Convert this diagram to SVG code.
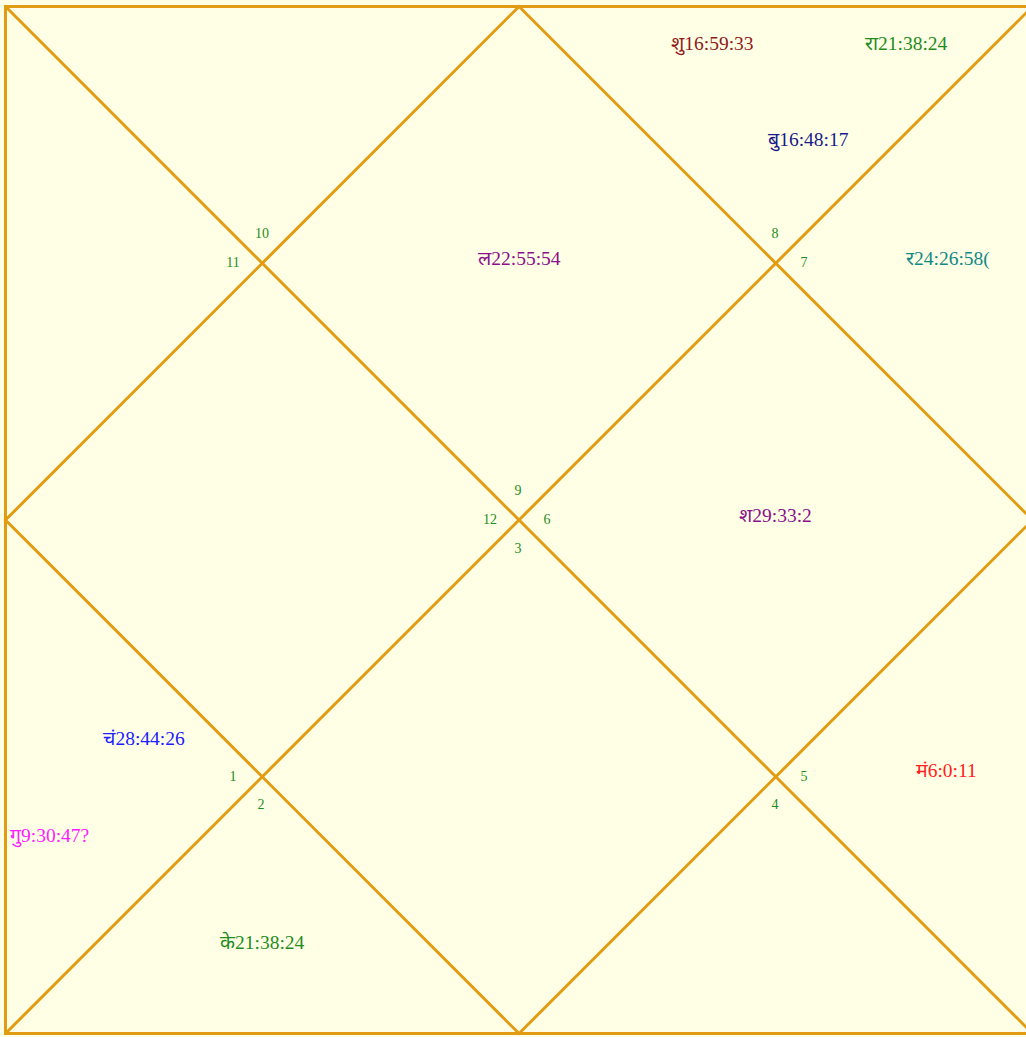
<svg xmlns="http://www.w3.org/2000/svg" width="1026" height="1037" viewBox="0 0 1026 1037">
<style>
.ln{stroke:#E29C14;stroke-width:3;fill:none;stroke-linecap:round}
.num{font-family:"Liberation Serif",serif;font-size:14px;fill:#1E8C1E;text-anchor:middle}
.pl{font-family:"Liberation Serif","Noto Sans",serif;font-size:19.5px}
</style>
<rect x="0" y="0" width="1026" height="1037" fill="#FFFFE5"/>
<g id="connectors">
<rect class="ln" x="5.5" y="6.5" width="1027" height="1027"/>
<line class="ln" x1="5.5" y1="6.5" x2="1032.5" y2="1033.5"/>
<line class="ln" x1="1032.5" y1="6.5" x2="5.5" y2="1033.5"/>
<polygon class="ln" points="519,6.5 1032.5,520 519,1033.5 5.5,520"/>
</g>
<g id="house-top">
<text class="num" x="518" y="495">9</text>
<text class="pl" x="478" y="265" fill="#8B108B">ल22:55:54</text>
</g>
<g id="house-top-left">
<text class="num" x="262" y="238">10</text>
</g>
<g id="house-left-upper">
<text class="num" x="233" y="267">11</text>
</g>
<g id="house-left">
<text class="num" x="490" y="524">12</text>
</g>
<g id="house-left-lower">
<text class="num" x="233" y="781">1</text>
<text class="pl" x="103" y="745" fill="#2020FF">चं28:44:26</text>
<text class="pl" x="10" y="842" fill="#FF20FF">गु9:30:47?</text>
</g>
<g id="house-bottom-left">
<text class="num" x="261" y="809">2</text>
<text class="pl" x="220" y="949" fill="#1E8C1E">के21:38:24</text>
</g>
<g id="house-bottom">
<text class="num" x="518" y="553">3</text>
</g>
<g id="house-bottom-right">
<text class="num" x="775" y="809">4</text>
</g>
<g id="house-right-lower">
<text class="num" x="804" y="781">5</text>
<text class="pl" x="916" y="777" fill="#FF2020">मं6:0:11</text>
</g>
<g id="house-right">
<text class="num" x="547" y="524">6</text>
<text class="pl" x="739" y="522" fill="#8B108B">श29:33:2</text>
</g>
<g id="house-right-upper">
<text class="num" x="804" y="267">7</text>
<text class="pl" x="906" y="265" fill="#108888">र24:26:58(</text>
</g>
<g id="house-top-right">
<text class="num" x="775" y="238">8</text>
<text class="pl" x="671" y="50" fill="#8E1B1B">शु16:59:33</text>
<text class="pl" x="865" y="50" fill="#1E8C1E">रा21:38:24</text>
<text class="pl" x="768" y="146" fill="#1A1A8C">बु16:48:17</text>
</g>
</svg>
